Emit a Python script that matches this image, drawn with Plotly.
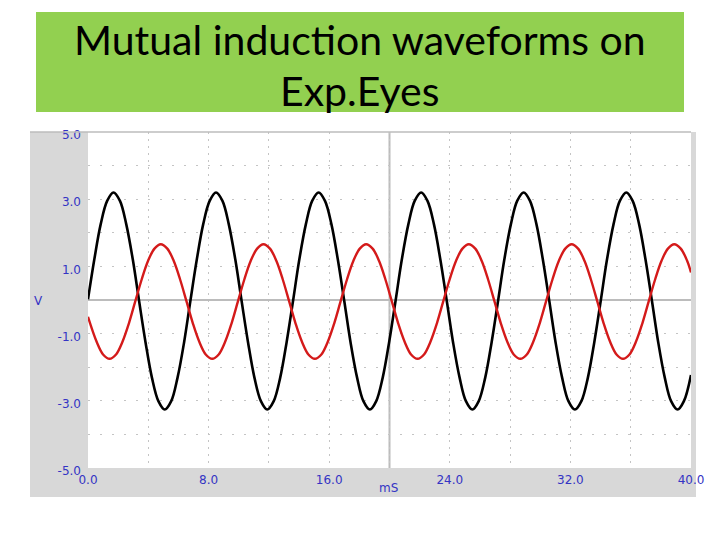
import plotly.graph_objects as go

# ---- data (time in ms, voltage in V) ----
black_t = [0.00, 0.42, 0.84, 1.27, 1.69, 2.12, 2.54, 2.97, 3.39, 3.82, 4.24, 4.67, 5.09, 5.52, 5.94, 6.37,
           6.79, 7.22, 7.64, 8.07, 8.49, 8.92, 9.34, 9.77, 10.19, 10.62, 11.04, 11.47, 11.89, 12.32, 12.75, 13.17,
           13.60, 14.02, 14.45, 14.87, 15.30, 15.72, 16.15, 16.57, 17.00, 17.42, 17.85, 18.27, 18.70, 19.12, 19.55, 19.97,
           20.40, 20.82, 21.25, 21.67, 22.10, 22.52, 22.95, 23.37, 23.80, 24.22, 24.65, 25.07, 25.50, 25.92, 26.35, 26.77,
           27.20, 27.62, 28.05, 28.47, 28.90, 29.32, 29.75, 30.17, 30.60, 31.02, 31.45, 31.87, 32.30, 32.73, 33.16, 33.58,
           34.01, 34.43, 34.86, 35.28, 35.71, 36.13, 36.56, 36.98, 37.41, 37.83, 38.26, 38.68, 39.11, 39.53, 40.00]
black_v = [0.02, 1.21, 2.25, 2.95, 3.20, 2.95, 2.25, 1.21, -0.03, -1.27, -2.31, -3.01, -3.26, -3.01, -2.31, -1.27,
           -0.03, 1.21, 2.25, 2.95, 3.20, 2.95, 2.25, 1.21, -0.03, -1.27, -2.31, -3.01, -3.26, -3.01, -2.31, -1.27,
           -0.03, 1.21, 2.25, 2.95, 3.20, 2.95, 2.25, 1.21, -0.03, -1.27, -2.31, -3.01, -3.26, -3.01, -2.31, -1.27,
           -0.03, 1.21, 2.25, 2.95, 3.20, 2.95, 2.25, 1.21, -0.03, -1.27, -2.31, -3.01, -3.26, -3.01, -2.31, -1.27,
           -0.03, 1.21, 2.25, 2.95, 3.20, 2.95, 2.25, 1.21, -0.03, -1.27, -2.31, -3.01, -3.26, -3.01, -2.31, -1.27,
           -0.03, 1.21, 2.25, 2.95, 3.20, 2.95, 2.25, 1.21, -0.03, -1.27, -2.31, -3.01, -3.26, -3.01, -2.23]

red_t = [0.00, 0.58, 1.00,
         1.43, 1.86, 2.28, 2.71, 3.13, 3.56, 3.98, 4.41, 4.83, 5.26, 5.69, 6.11, 6.54, 6.96, 7.39, 7.81,
         8.24, 8.67, 9.09, 9.52, 9.94, 10.37, 10.79, 11.22, 11.64, 12.07, 12.50, 12.92, 13.35, 13.77, 14.20, 14.62,
         15.05, 15.48, 15.90, 16.33, 16.75, 17.18, 17.60, 18.03, 18.45, 18.88, 19.31, 19.73, 20.16, 20.58, 21.01, 21.43,
         21.86, 22.29, 22.71, 23.14, 23.56, 23.99, 24.41, 24.84, 25.26, 25.69, 26.12, 26.54, 26.97, 27.39, 27.82, 28.24,
         28.68, 29.11, 29.53, 29.96, 30.38, 30.81, 31.23, 31.66, 32.08, 32.51, 32.94, 33.36, 33.79, 34.21, 34.64, 35.06,
         35.49, 35.92, 36.34, 36.77, 37.19, 37.62, 38.04, 38.47, 38.89, 39.32, 39.75, 40.00]
red_v = [-0.50, -1.25, -1.62,
         -1.75, -1.62, -1.25, -0.70, -0.05, 0.61, 1.16, 1.53, 1.66, 1.53, 1.16, 0.61, -0.05, -0.70, -1.25, -1.62,
         -1.75, -1.62, -1.25, -0.70, -0.05, 0.61, 1.16, 1.53, 1.66, 1.53, 1.16, 0.61, -0.05, -0.70, -1.25, -1.62,
         -1.75, -1.62, -1.25, -0.70, -0.05, 0.61, 1.16, 1.53, 1.66, 1.53, 1.16, 0.61, -0.05, -0.70, -1.25, -1.62,
         -1.75, -1.62, -1.25, -0.70, -0.05, 0.61, 1.16, 1.53, 1.66, 1.53, 1.16, 0.61, -0.05, -0.70, -1.25, -1.62,
         -1.75, -1.62, -1.25, -0.70, -0.05, 0.61, 1.16, 1.53, 1.66, 1.53, 1.16, 0.61, -0.05, -0.70, -1.25, -1.62,
         -1.75, -1.62, -1.25, -0.70, -0.05, 0.61, 1.16, 1.53, 1.66, 1.53, 1.16, 0.82]

x_ticks = [0, 8, 16, 24, 32, 40]
x_labels = ["0.0", "8.0", "16.0", "24.0", "32.0", "40.0"]
y_ticks = [-5, -3, -1, 1, 3, 5]
y_labels = ["-5.0", "-3.0", "-1.0", "1.0", "3.0", "5.0"]

title_lines = ["Mutual induction waveforms on", "Exp.Eyes"]
x_title = "mS"
y_title = "V"

# ---- layout geometry (pixels) ----
W, H = 720, 540
ML, MR, MT, MB = 88, 29, 132, 72
PW, PH = W - ML - MR, H - MT - MB


def px(x):
    return (x - ML) / PW


def py(y):
    return (H - MB - y) / PH


LABEL_BLUE = "#3434c4"
PANEL = "#d8d8d8"

fig = go.Figure()
fig.add_trace(go.Scatter(x=black_t, y=black_v, mode="lines",
                         line=dict(color="#000000", width=2.6, shape="spline", smoothing=1.0),
                         hoverinfo="skip", showlegend=False))
fig.add_trace(go.Scatter(x=red_t, y=red_v, mode="lines",
                         line=dict(color="#d41a1a", width=2.4, shape="spline", smoothing=1.0),
                         hoverinfo="skip", showlegend=False))

shapes = [
    # green title box
    dict(type="rect", xref="paper", yref="paper", x0=px(36), x1=px(684), y0=py(112), y1=py(12),
         fillcolor="#92d050", line=dict(width=0), layer="below"),
    # gray instrument panel (left, bottom, right strip)
    dict(type="rect", xref="paper", yref="paper", x0=px(30), x1=px(88), y0=py(497), y1=py(132),
         fillcolor=PANEL, line=dict(width=0), layer="below"),
    dict(type="rect", xref="paper", yref="paper", x0=px(88), x1=px(696), y0=py(497), y1=py(468),
         fillcolor=PANEL, line=dict(width=0), layer="below"),
    dict(type="rect", xref="paper", yref="paper", x0=px(691), x1=px(696), y0=py(468), y1=py(132),
         fillcolor=PANEL, line=dict(width=0), layer="below"),
    # top border line
    dict(type="line", xref="paper", yref="paper", x0=px(30), x1=px(691), y0=1, y1=1,
         line=dict(color="#bdbdbd", width=1.5), layer="above"),
    # solid centre line at 20 ms
    dict(type="line", xref="x", yref="paper", x0=20, x1=20, y0=0, y1=1,
         line=dict(color="#bcbcbc", width=2), layer="below"),
]

annotations = [
    dict(text=title_lines[0], xref="paper", yref="paper", x=px(360), y=py(39),
         xanchor="center", yanchor="middle", showarrow=False,
         font=dict(family="Lato", size=41, color="#000000")),
    dict(text=title_lines[1], xref="paper", yref="paper", x=px(360), y=py(90),
         xanchor="center", yanchor="middle", showarrow=False,
         font=dict(family="Lato", size=41, color="#000000")),
    dict(text=x_title, xref="paper", yref="paper", x=px(388), y=py(488),
         xanchor="center", yanchor="middle", showarrow=False,
         font=dict(family="DejaVu Sans", size=12, color=LABEL_BLUE)),
    dict(text=y_title, xref="paper", yref="paper", x=px(38), y=py(301),
         xanchor="center", yanchor="middle", showarrow=False,
         font=dict(family="DejaVu Sans", size=12, color=LABEL_BLUE)),
]

fig.update_layout(
    width=W, height=H,
    margin=dict(l=ML, r=MR, t=MT, b=MB, pad=0),
    paper_bgcolor="#ffffff", plot_bgcolor="#ffffff",
    shapes=shapes, annotations=annotations,
    xaxis=dict(range=[0, 40], tickvals=x_ticks, ticktext=x_labels,
               showline=False, zeroline=False, ticks="", ticklabelstandoff=3,
               showgrid=True, gridcolor="#c4c4c4", gridwidth=1, griddash="2px,5px",
               minor=dict(dtick=4, tick0=0, showgrid=True, gridcolor="#c4c4c4",
                          gridwidth=1, griddash="2px,5px", ticks=""),
               tickfont=dict(family="DejaVu Sans", size=12, color=LABEL_BLUE),
               fixedrange=True),
    yaxis=dict(range=[-5, 5], tickvals=y_ticks, ticktext=y_labels,
               showline=False, ticks="", ticklabelstandoff=6, ticklabelshift=3,
               zeroline=True, zerolinecolor="#bcbcbc", zerolinewidth=2,
               showgrid=True, gridcolor="#c4c4c4", gridwidth=1, griddash="2px,10px",
               minor=dict(dtick=1, tick0=0, showgrid=True, gridcolor="#c4c4c4",
                          gridwidth=1, griddash="2px,10px", ticks=""),
               tickfont=dict(family="DejaVu Sans", size=12, color=LABEL_BLUE),
               fixedrange=True),
)

fig.write_html("out.html", config={"displayModeBar": False},
               post_script="document.body.style.margin='0';document.body.style.padding='0';")
